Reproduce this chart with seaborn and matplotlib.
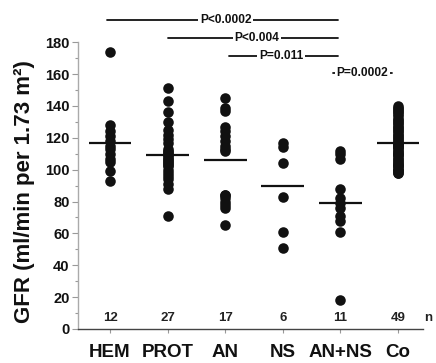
import seaborn as sns
import matplotlib.pyplot as plt
import pandas as pd
from matplotlib.ticker import MultipleLocator

# Groups and GFR values (ml/min per 1.73 m2)
groups = ["HEM", "PROT", "AN", "NS", "AN+NS", "Co"]
hem = [174, 128, 124, 121, 118, 115, 113, 110, 107, 105, 99, 93]
prot = [151, 143, 136, 130, 125, 122, 119, 117, 113, 112, 111, 110, 109, 108,
        107, 106, 105, 104, 103, 102, 100, 98, 96, 94, 91, 88, 71]
an = [145, 139, 137, 127, 124, 121, 118, 115, 113, 112, 84, 84, 82, 80, 78, 76, 65]
ns = [117, 114, 104, 83, 61, 51]
an_ns = [112, 110, 107, 88, 82, 79, 76, 71, 68, 61, 18]
co = [140, 139, 138, 137, 136, 135, 134, 132, 131, 130,
      129, 128, 127, 126, 125, 124, 123, 122, 121, 120,
      119, 118, 117, 117, 116, 116, 115, 114, 114, 113,
      112, 111, 110, 110, 109, 108, 107, 106, 105, 104,
      103, 103, 102, 101, 100, 100, 99, 98, 98]
means = [117, 109, 106, 90, 79, 117]
n_labels = ["12", "27", "17", "6", "11", "49"]

# Comparisons: (group from, group to, label)
comparisons = [("HEM", "AN+NS", "P<0.0002"),
               ("PROT", "AN+NS", "P<0.004"),
               ("AN", "AN+NS", "P=0.011"),
               ("AN+NS", "Co", "P=0.0002")]

values = [hem, prot, an, ns, an_ns, co]
df = pd.DataFrame({
    "grupo": [g for g, v in zip(groups, values) for _ in v],
    "gfr": [x for v in values for x in v],
})

sns.set_style("ticks")
plt.rcParams["font.family"] = ["Liberation Sans", "DejaVu Sans"]

fig = plt.figure(figsize=(4.36, 3.63), dpi=100)
ax = fig.add_axes([0.179, 0.0937, 0.791, 0.790])

sns.stripplot(data=df, x="grupo", y="gfr", order=groups, jitter=False,
              color="#111111", size=7.6, linewidth=0, ax=ax, clip_on=False)

# mean lines
for i, m in enumerate(means):
    ax.hlines(m, i - 0.37, i + 0.37, color="#111111", lw=1.6, zorder=3)

# n per group
for i, t in enumerate(n_labels):
    ax.text(i, 7, t, ha="center", va="center", fontsize=9.5, fontweight="bold", color="#222222")
ax.text(5.52, 7, "n", ha="center", va="center", fontsize=9.5, fontweight="bold", color="#222222")

# significance brackets above the plot
bracket_geom = [(-0.05, 3.96, 194, 2.01),
                (1.0, 3.96, 182.6, 2.55),
                (2.07, 3.96, 171.3, 2.97),
                (3.87, 4.9, 160.6, 4.38)]
for (g0, g1, lab), (x0, x1, y, xt) in zip(comparisons, bracket_geom):
    ax.plot([x0, x1], [y, y], color="#111111", lw=1.3, clip_on=False)
    ax.text(xt, y, lab, ha="center", va="center", fontsize=8.6, fontweight="bold",
            color="#111111", bbox=dict(facecolor="white", edgecolor="none", pad=1.2), clip_on=False)

ax.set_xlim(-0.556, 5.434)
ax.set_ylim(0, 180)
ax.yaxis.set_major_locator(MultipleLocator(20))
ax.yaxis.set_minor_locator(MultipleLocator(10))

ax.set_xlabel("")
ax.set_ylabel("GFR (ml/min per 1.73 m²)", fontsize=16, fontweight="bold", color="#111111")
ax.yaxis.set_label_coords(-0.125, 0.48)

for lab in ax.get_yticklabels():
    lab.set_fontweight("bold")
for lab in ax.get_xticklabels():
    lab.set_fontweight("bold")
ax.tick_params(axis="y", labelsize=10.5, length=4, width=0.8, color="#999999", labelcolor="#111111", pad=2)
ax.tick_params(axis="y", which="minor", length=2, width=0.8, color="#999999")
ax.tick_params(axis="x", labelsize=13.5, length=3, width=0.8, color="#999999", labelcolor="#111111", pad=7.5)

sns.despine(ax=ax)
ax.spines["left"].set_color("#aaaaaa")
ax.spines["bottom"].set_color("#444444")
ax.spines["left"].set_linewidth(1.0)
ax.spines["bottom"].set_linewidth(1.0)

plt.savefig("out.png", dpi=100)
